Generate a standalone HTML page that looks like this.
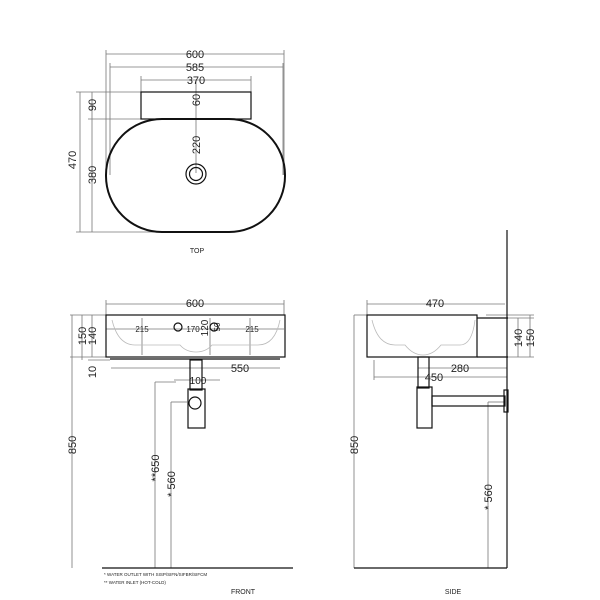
<!DOCTYPE html>
<html><head><style>body{margin:0;background:#fff}svg{display:block}text{font-family:"Liberation Sans",sans-serif;fill:#222}</style></head><body>
<svg width="600" height="600" viewBox="0 0 600 600" xmlns="http://www.w3.org/2000/svg">
<g stroke="#777" stroke-width="0.8" fill="none">
<!-- TOP dims -->
<line x1="106" y1="54" x2="284" y2="54"/><line x1="110" y1="67" x2="283" y2="67"/><line x1="141" y1="80" x2="251" y2="80"/>
<line x1="106" y1="50" x2="106" y2="175"/><line x1="284" y1="50" x2="284" y2="175"/>
<line x1="110" y1="63" x2="110" y2="175"/><line x1="283" y1="63" x2="283" y2="175"/>
<line x1="141" y1="76" x2="141" y2="92"/><line x1="251" y1="76" x2="251" y2="92"/>
<line x1="196" y1="80" x2="196" y2="173"/>
<line x1="76" y1="92" x2="141" y2="92"/><line x1="88" y1="119" x2="141" y2="119"/>
<line x1="80" y1="92" x2="80" y2="232"/><line x1="92" y1="92" x2="92" y2="232"/>
<line x1="76" y1="232" x2="196" y2="232"/>
<!-- FRONT dims -->
<line x1="106" y1="304" x2="284" y2="304"/><line x1="106" y1="300" x2="106" y2="315"/><line x1="284" y1="300" x2="284" y2="315"/>
<line x1="111" y1="368" x2="280" y2="368"/>
<line x1="106" y1="329" x2="284" y2="329"/>
<line x1="142" y1="318" x2="142" y2="355"/><line x1="250" y1="318" x2="250" y2="355"/>
<line x1="210" y1="318" x2="210" y2="355"/>
<line x1="70" y1="315" x2="106" y2="315"/><line x1="70" y1="357" x2="106" y2="357"/><line x1="88" y1="360" x2="110" y2="360"/>
<line x1="72" y1="315" x2="72" y2="568"/><line x1="82" y1="315" x2="82" y2="360"/><line x1="92" y1="315" x2="92" y2="357"/>
<line x1="174" y1="380" x2="220" y2="380"/>
<line x1="155" y1="382" x2="176" y2="382"/><line x1="155" y1="382" x2="155" y2="568"/>
<line x1="171" y1="402" x2="187" y2="402"/><line x1="171" y1="402" x2="171" y2="568"/>
<!-- SIDE dims -->
<line x1="367" y1="304" x2="505" y2="304"/><line x1="367" y1="300" x2="367" y2="315"/>
<line x1="418" y1="368" x2="507" y2="368"/><line x1="374" y1="377" x2="507" y2="377"/>
<line x1="374" y1="360" x2="374" y2="380"/><line x1="418" y1="360" x2="418" y2="372"/>
<line x1="508" y1="318" x2="534" y2="318"/><line x1="508" y1="357" x2="534" y2="357"/><line x1="486" y1="315" x2="534" y2="315"/>
<line x1="518" y1="318" x2="518" y2="357"/><line x1="530" y1="315" x2="530" y2="357"/>
<line x1="354" y1="315" x2="367" y2="315"/><line x1="354" y1="315" x2="354" y2="568"/>
<line x1="488" y1="402" x2="504" y2="402"/><line x1="488" y1="402" x2="488" y2="568"/>
<path d="M112 320 Q118 345 135 345 L180 345 Q186 352 196 352 Q206 352 212 345 L258 345 Q275 345 280 320" stroke="#bbb"/>
<path d="M372 320 Q378 345 395 345 L405 345 Q413 355 423 355 Q433 355 441 345 L460 345 Q472 345 475 320" stroke="#bbb"/>
</g>
<g stroke="#111" stroke-width="1.2" fill="none">
<rect x="141" y="92" width="110" height="27"/>
<rect x="106" y="119" width="179" height="113" rx="56" ry="56" stroke-width="2"/>
<circle cx="196" cy="174" r="10"/><circle cx="196" cy="174" r="6.5"/>
<rect x="106" y="315" width="179" height="42"/>
<line x1="110" y1="359" x2="280" y2="359"/>
<rect x="190" y="360" width="12" height="30"/>
<rect x="188" y="389" width="17" height="39"/>
<circle cx="195" cy="403" r="6"/>
<circle cx="178" cy="327" r="4"/><circle cx="214" cy="327" r="4"/>
<line x1="102" y1="568" x2="293" y2="568"/>
<rect x="367" y="315" width="110" height="42"/>
<path d="M477 318 L508 318 M477 357 L508 357"/>
<line x1="507" y1="230" x2="507" y2="568"/>
<rect x="418" y="357" width="11" height="31"/>
<rect x="417" y="387" width="15" height="41"/>
<rect x="432" y="396" width="73" height="10"/>
<rect x="504" y="390" width="4" height="22"/>
<line x1="354" y1="568" x2="507" y2="568"/>
</g>
<g font-size="11" text-anchor="middle">
<text x="195" y="58" fill="#222">600</text>
<text x="195" y="71">585</text>
<text x="196" y="84">370</text>
<text transform="translate(200,100) rotate(-90)">60</text>
<text transform="translate(200,145) rotate(-90)">220</text>
<text transform="translate(76,160) rotate(-90)">470</text>
<text transform="translate(96,175) rotate(-90)">380</text>
<text transform="translate(96,105) rotate(-90)">90</text>
<text x="197" y="253" font-size="7">TOP</text>
<text x="195" y="307">600</text>
<text x="240" y="372">550</text>
<text transform="translate(86,336) rotate(-90)">150</text>
<text transform="translate(96,336) rotate(-90)">140</text>
<text transform="translate(96,372) rotate(-90)">10</text>
<text transform="translate(76,445) rotate(-90)">850</text>
<text x="198" y="384" font-size="10">100</text>
<text transform="translate(159,468) rotate(-90)">**650</text>
<text transform="translate(175,484) rotate(-90)">* 560</text>
<text x="142" y="332" font-size="8">215</text>
<text x="193" y="332" font-size="8">170</text>
<text x="252" y="332" font-size="8">215</text>
<text transform="translate(208,328) rotate(-90)" font-size="10">120</text>
<text transform="translate(220,327) rotate(-90)" font-size="8">50</text>
<text x="435" y="307">470</text>
<text x="460" y="372">280</text>
<text x="434" y="381">450</text>
<text transform="translate(522,338) rotate(-90)">140</text>
<text transform="translate(534,338) rotate(-90)">150</text>
<text transform="translate(358,445) rotate(-90)">850</text>
<text transform="translate(492,497) rotate(-90)">* 560</text>
</g>
<g font-size="4.5">
<text x="104" y="576">*  WATER OUTLET WITH SISP/SIFN/SIFBR/SIFCM</text>
<text x="104" y="584">** WATER INLET  (HOT-COLD)</text>
</g>
<text x="243" y="594" font-size="7" text-anchor="middle">FRONT</text>
<text x="453" y="594" font-size="7" text-anchor="middle">SIDE</text>
</svg>
</body></html>
